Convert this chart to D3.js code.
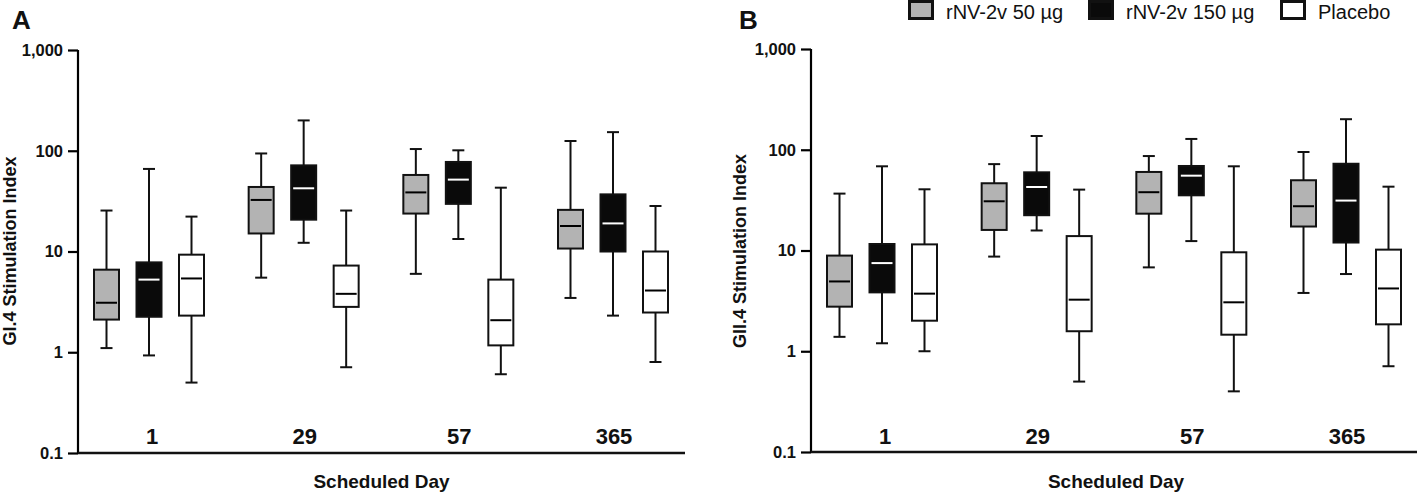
<!DOCTYPE html>
<html>
<head>
<meta charset="utf-8">
<script src="https://cdn.jsdelivr.net/npm/d3@7"></script>
<style>
    body { margin: 0; background: #fff; }
    text { font-family: "Liberation Sans", Arial, Helvetica, sans-serif; }
</style>
</head>
<body>
<div id="chart"></div>
<script>
"use strict";

// scheduled days and treatment groups
var days = ["1", "29", "57", "365"];
var groups = ["rNV-2v 50 µg", "rNV-2v 150 µg", "Placebo"];
var yTicks = [0.1, 1, 10, 100, 1000];
var yTickLabels = ["0.1", "1", "10", "100", "1,000"];

// each entry: [whisker low, q1, median, q3, whisker high], one per day
var gi4Low = [[1.1, 2.11, 3.1, 6.6, 25.5], [5.5, 15.1, 32.5, 43.7, 94], [6.0, 23.8, 38.6, 57.5, 104], [3.46, 10.7, 17.9, 25.9, 125]];
var gi4High = [[0.93, 2.25, 5.26, 7.8, 66], [12.2, 20.7, 42.4, 71.6, 200], [13.3, 29.7, 51.7, 77.4, 101], [2.31, 10.0, 19, 36.9, 153]];
var gi4Placebo = [[0.5, 2.31, 5.4, 9.3, 22.2], [0.71, 2.82, 3.8, 7.25, 25.5], [0.605, 1.17, 2.08, 5.26, 43], [0.8, 2.48, 4.1, 10.0, 28.3]];

var gii4Low = [[1.39, 2.77, 4.93, 8.9, 36.7], [8.7, 16.0, 30.8, 46.5, 72], [6.8, 23.2, 37.9, 60.2, 86.6], [3.79, 17.3, 27.5, 49.8, 95]];
var gii4High = [[1.2, 3.84, 7.5, 11.6, 68.5], [15.8, 22.4, 42.7, 59.7, 137], [12.4, 35.3, 55.3, 69, 128], [5.84, 12.0, 31.3, 72.6, 201]];
var gii4Placebo = [[1.0, 2.01, 3.73, 11.5, 40.5], [0.5, 1.58, 3.25, 13.9, 40.2], [0.4, 1.46, 3.06, 9.6, 68.5], [0.71, 1.85, 4.2, 10.2, 43]];

var fills = ["#b3b3b3", "#0a0a0a", "#ffffff"];
var medianColors = ["#000", "#fff", "#000"];

var svg = d3.select("#chart")
    .append("svg")
    .attr("width", 1417)
    .attr("height", 493);

function drawPanel(opts) {
    var g = svg.append("g").attr("transform", "translate(" + opts.left + ",0)");

    var y = d3.scaleLog().domain([0.1, 1000]).range([opts.bottom, opts.top]);
    var x = d3.scalePoint().domain(days).range([71, 535]);
    var xs = d3.scalePoint().domain(groups).range([-42.5, 42.5]);
    var boxW = 25, capW = 12;

    // y axis
    var yAxis = g.append("g")
        .call(d3.axisLeft(y).tickValues(yTicks).tickSize(10).tickPadding(5)
            .tickFormat(function(d, i) { return yTickLabels[i]; }));
    yAxis.select(".domain").attr("d", "M0," + y(1000) + "V" + y(0.1)).attr("stroke-width", 2.2);
    yAxis.selectAll(".tick line").attr("stroke-width", 2.2);
    yAxis.selectAll(".tick text")
        .attr("font-size", 16.5).attr("font-weight", "bold").attr("fill", "#111")
        .style("font-family", "'Liberation Sans', Arial, sans-serif");

    // x axis line only
    g.append("line")
        .attr("x1", 0).attr("x2", opts.axisLen)
        .attr("y1", y(0.1)).attr("y2", y(0.1))
        .attr("stroke", "#111").attr("stroke-width", 2.6);

    // day labels
    g.selectAll(".day")
        .data(days)
        .enter().append("text")
        .attr("class", "day")
        .attr("x", function(d) { return x(d) + (d === "1" ? 3 : 1); })
        .attr("y", 444)
        .attr("text-anchor", "middle")
        .attr("font-size", 22).attr("font-weight", "bold").attr("fill", "#111")
        .text(function(d) { return d; });

    // boxes
    groups.forEach(function(grp, gi) {
        var series = opts.series[gi];
        days.forEach(function(day, di) {
            var s = series[di];
            var cx = x(day) + xs(grp);
            var b = g.append("g");
            b.append("line")
                .attr("x1", cx).attr("x2", cx).attr("y1", y(s[4])).attr("y2", y(s[3]))
                .attr("stroke", "#111").attr("stroke-width", 2);
            b.append("line")
                .attr("x1", cx).attr("x2", cx).attr("y1", y(s[1])).attr("y2", y(s[0]))
                .attr("stroke", "#111").attr("stroke-width", 2);
            [s[0], s[4]].forEach(function(v) {
                b.append("line")
                    .attr("x1", cx - capW / 2).attr("x2", cx + capW / 2)
                    .attr("y1", y(v)).attr("y2", y(v))
                    .attr("stroke", "#111").attr("stroke-width", 2);
            });
            b.append("rect")
                .attr("x", cx - boxW / 2).attr("width", boxW)
                .attr("y", y(s[3])).attr("height", y(s[1]) - y(s[3]))
                .attr("fill", fills[gi]).attr("stroke", "#111").attr("stroke-width", 2);
            b.append("line")
                .attr("x1", cx - boxW / 2 + 2).attr("x2", cx + boxW / 2 - 2)
                .attr("y1", y(s[2])).attr("y2", y(s[2]))
                .attr("stroke", medianColors[gi]).attr("stroke-width", 2);
        });
    });

    // axis titles
    g.append("text")
        .attr("transform", "translate(" + opts.titleX + "," + 251 + ") rotate(-90)")
        .attr("text-anchor", "middle")
        .attr("dy", "0.35em")
        .attr("font-size", 18).attr("font-weight", "bold").attr("fill", "#111")
        .text(opts.yTitle);

    g.append("text")
        .attr("x", opts.axisLen / 2)
        .attr("y", 488)
        .attr("text-anchor", "middle")
        .attr("font-size", 19).attr("font-weight", "bold").attr("fill", "#111")
        .text("Scheduled Day");

    // panel letter
    g.append("text")
        .attr("x", opts.letterX).attr("y", 29)
        .attr("font-size", 26).attr("font-weight", "bold").attr("fill", "#111")
        .text(opts.letter);
}

drawPanel({
    left: 78, top: 50, bottom: 453, axisLen: 607,
    series: [gi4Low, gi4High, gi4Placebo],
    yTitle: "GI.4 Stimulation Index", titleX: -68, letter: "A", letterX: -66
});

drawPanel({
    left: 811, top: 49, bottom: 452, axisLen: 610,
    series: [gii4Low, gii4High, gii4Placebo],
    yTitle: "GII.4 Stimulation Index", titleX: -71, letter: "B", letterX: -72
});

// legend
var legendX = [908, 1088, 1280];
var legend = svg.selectAll(".legend")
    .data(groups)
    .enter().append("g")
    .attr("class", "legend")
    .attr("transform", function(d, i) { return "translate(" + legendX[i] + ",0)"; });

legend.append("rect")
    .attr("x", 1.5).attr("y", 1.5)
    .attr("width", 23).attr("height", 17)
    .attr("fill", function(d, i) { return fills[i]; })
    .attr("stroke", "#111").attr("stroke-width", 3);

legend.append("text")
    .attr("x", 38).attr("y", 18.5)
    .attr("font-size", 20).attr("fill", "#111")
    .text(function(d) { return d; });
</script>
</body>
</html>
